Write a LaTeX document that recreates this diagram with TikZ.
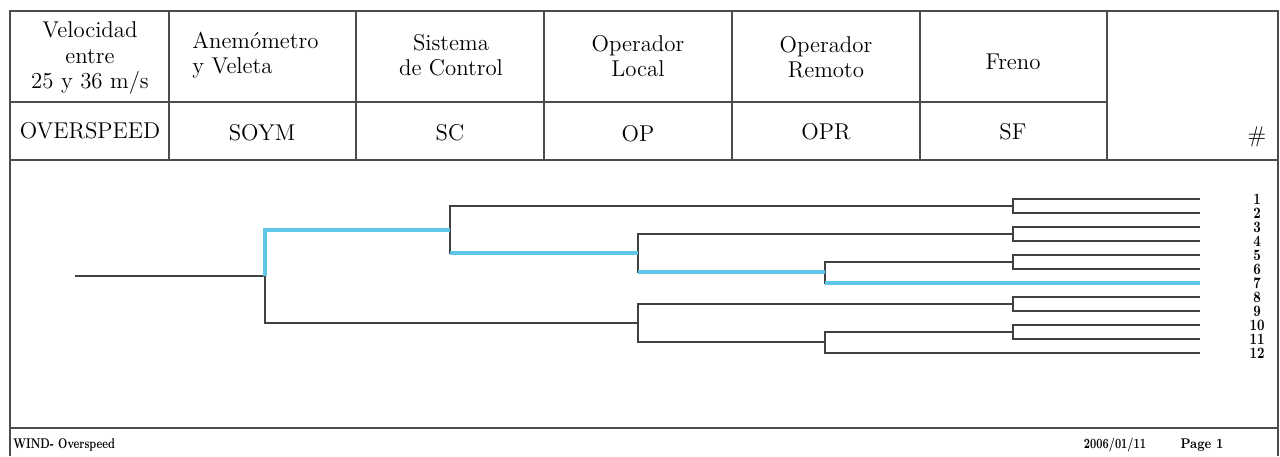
\documentclass[tikz,border=0pt]{standalone}
\usepackage{tikz}
\usepackage{graphicx}
\usetikzlibrary{calc}
\definecolor{skyline}{RGB}{95,198,232}
\newcommand{\narrow}[2][0.72]{\scalebox{#1}[1]{#2}}
\tikzset{
    cell/.style={
        font=\fontsize{13}{14.4}\selectfont,
        align=center,
        inner sep=0pt
    },
    tabline/.style={
        draw=black!70,
        line width=1pt
    },
    branch/.style={
        draw=black!75,
        line width=0.8pt
    },
    hot/.style={
        draw=skyline,
        line width=2pt
    },
    leafnum/.style={
        font=\fontsize{9}{9}\selectfont\bfseries,
        inner sep=0pt
    },
    foot/.style={
        font=\fontsize{8}{9}\selectfont\bfseries,
        inner sep=0pt
    }
}

\begin{document}
\begin{tikzpicture}[x=0.2mm, y=-0.2mm]
    \useasboundingbox (0,0) rectangle (1280,456);

    % Frame and header grid
    \draw[tabline] (10,456) -- (10,11) -- (1278,11) -- (1278,456);
    \draw[tabline] (10,102) -- (1107,102);
    \draw[tabline] (10,160) -- (1278,160);
    \draw[tabline, line width=1.4pt] (10,428) -- (1278,428);
    \foreach \x in {169,356,544,732,920,1107}
        \draw[tabline] (\x,11) -- (\x,160);

    % Column headings
    \node[cell] (vel) at (90,58) {Velocidad\\entre\\25 y 36 m/s};
    \node[cell, anchor=west, align=left] (anem) at (192,55) {Anemómetro\\y Veleta};
    \node[cell] (sist) at (451,55) {Sistema\\de Control};
    \node[cell] (oploc) at (638,56) {Operador\\Local};
    \node[cell] (oprem) at (826,57) {Operador\\Remoto};
    \node[cell] (freno) at (1013,62) {Freno};

    % Codes
    \node[cell] (overspeed) at (90,131) {OVERSPEED};
    \node[cell] (soym) at (262,133) {SOYM};
    \node[cell] (sc) at (450,133) {SC};
    \node[cell] (op) at (638,134) {OP};
    \node[cell] (opr) at (826,132) {OPR};
    \node[cell] (sf) at (1013,132) {SF};
    \node[cell] (hash) at (1257,137) {\#};

    % Fault tree points
    \coordinate (root) at (75,276);
    \coordinate (a) at (265,276);
    \coordinate (b1) at (450,230);
    \coordinate (b2) at (638,323);
    \coordinate (c1) at (1013,206);
    \coordinate (c2) at (638,253);
    \coordinate (d1) at (1013,234);
    \coordinate (d2) at (825,272);
    \coordinate (e1) at (1013,262);
    \coordinate (c3) at (1013,304);
    \coordinate (c4) at (825,342);
    \coordinate (e2) at (1013,332);
    \foreach \i in {1,...,12}
        \coordinate (l\i) at (1200,{199+(\i-1)*14});

    % Branches
    \draw[branch] (root) -- (a);
    \draw[branch] (a) |- (b1);
    \draw[branch] (a) |- (b2);
    \draw[branch] (b1) |- (c1);
    \draw[branch] (b1) |- (c2);
    \draw[branch] (c2) |- (d1);
    \draw[branch] (c2) |- (d2);
    \draw[branch] (d2) |- (e1);
    \draw[branch] (d2) |- (l7);
    \draw[branch] (b2) |- (c3);
    \draw[branch] (b2) |- (c4);
    \draw[branch] (c4) |- (e2);
    \draw[branch] (c4) |- (l12);
    \foreach \f/\i/\j in {c1/1/2, d1/3/4, e1/5/6, c3/8/9, e2/10/11} {
        \draw[branch] (\f) |- (l\i);
        \draw[branch] (\f) |- (l\j);
    }

    % Highlighted path
    \draw[hot] (a) |- (b1);
    \draw[hot] (b1 |- c2) -- (c2);
    \draw[hot] (c2 |- d2) -- (d2);
    \draw[hot] (d2 |- l7) -- (l7);

    % Leaf numbers
    \foreach \i in {1,...,12}
        \node[leafnum] (n\i) at (1257,{199+(\i-1)*14}) {\narrow[0.8]{\i}};

    % Footer
    \node[foot, anchor=west] (wind) at (13,445) {\narrow{WIND- Overspeed}};
    \node[foot] (date) at (1115,445) {\narrow{2006/01/11}};
    \node[foot] (page) at (1202,445) {\narrow[0.85]{Page 1}};
\end{tikzpicture}
\end{document}
